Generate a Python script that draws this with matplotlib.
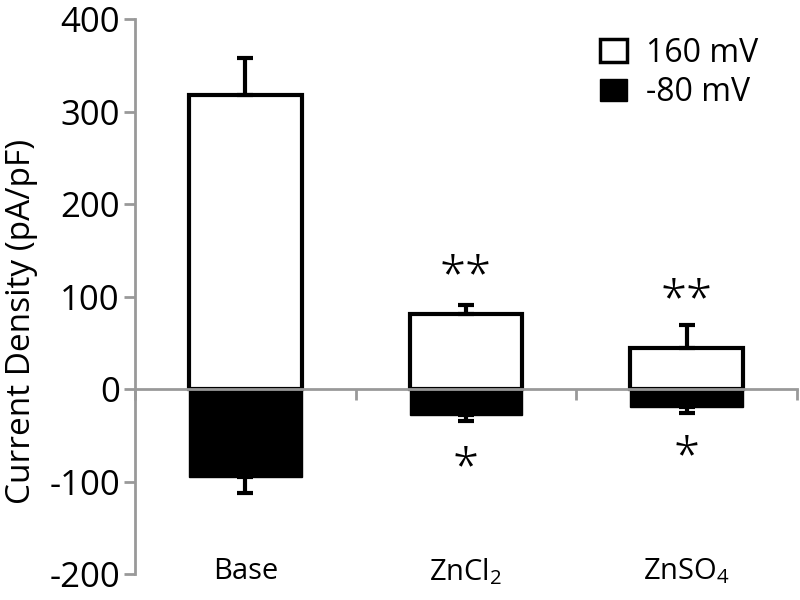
import numpy as np
import matplotlib.pyplot as plt
from matplotlib.patches import Patch

groups = ["Base", "ZnCl$_2$", "ZnSO$_4$"]
pos_vals = [318, 81, 44]      # 160 mV
pos_err = [40, 10, 25]
neg_vals = [-95, -28, -19]    # -80 mV
neg_err = [17, 6, 7]
pos_stars = ["", "**", "**"]
pos_star_y = [0, 120, 94]
neg_stars = ["", "*", "*"]
neg_star_y = [0, -87, -75]

plt.rcParams["font.family"] = ["Open Sans", "DejaVu Sans"]
plt.rcParams["axes.unicode_minus"] = False
plt.rcParams["mathtext.fontset"] = "custom"
plt.rcParams["mathtext.rm"] = "Open Sans"

fig = plt.figure(figsize=(8, 6), dpi=100)
ax = fig.add_axes([0.169, 0.043, 0.827, 0.925])

x = np.arange(len(groups))
w = 0.51
ax.bar(x, pos_vals, w, color="white", edgecolor="black", linewidth=3, zorder=1)
ax.bar(x, neg_vals, w, color="black", edgecolor="black", linewidth=1, zorder=1)
ax.errorbar(x, pos_vals, yerr=[np.zeros(3), pos_err], fmt="none", ecolor="black",
            elinewidth=3, capsize=6, capthick=3, zorder=3)
ax.errorbar(x, neg_vals, yerr=[neg_err, np.zeros(3)], fmt="none", ecolor="black",
            elinewidth=3, capsize=6, capthick=3, zorder=3)

for i in range(len(groups)):
    if pos_stars[i]:
        ax.text(x[i], pos_star_y[i], pos_stars[i], ha="center", va="center",
                fontsize=34, fontweight="light")
    if neg_stars[i]:
        ax.text(x[i], neg_star_y[i], neg_stars[i], ha="center", va="center",
                fontsize=34, fontweight="light")
    ax.text(x[i], -197, groups[i], ha="center", va="center", fontsize=21)

ax.set_xlim(-0.5, 2.5)
ax.set_ylim(-200, 400)
ax.set_yticks(range(-200, 401, 100))
ax.set_xticks([-0.5, 0.5, 1.5, 2.5])
ax.set_xticklabels([])

for s in ["top", "right"]:
    ax.spines[s].set_visible(False)
ax.spines["bottom"].set_position(("data", 0))
ax.spines["bottom"].set_zorder(2.5)
for s in ["left", "bottom"]:
    ax.spines[s].set_color("#999999")
    ax.spines[s].set_linewidth(2)
ax.tick_params(axis="both", colors="#999999", width=2, length=8, direction="out")
ax.tick_params(axis="y", labelcolor="black", labelsize=25, pad=3)

ax.set_ylabel("Current Density (pA/pF)", fontsize=24)
ax.yaxis.set_label_coords(-0.147, 0.456)

handles = [Patch(facecolor="white", edgecolor="black", linewidth=2.5),
           Patch(facecolor="black", edgecolor="black")]
ax.legend(handles, ["160 mV", "-80 mV"], loc="upper right", bbox_to_anchor=(0.985, 1.02),
          frameon=False, fontsize=23, handlelength=0.85, handleheight=0.7,
          handletextpad=0.6, labelspacing=0.2)

fig.savefig("out.png", dpi=100)
